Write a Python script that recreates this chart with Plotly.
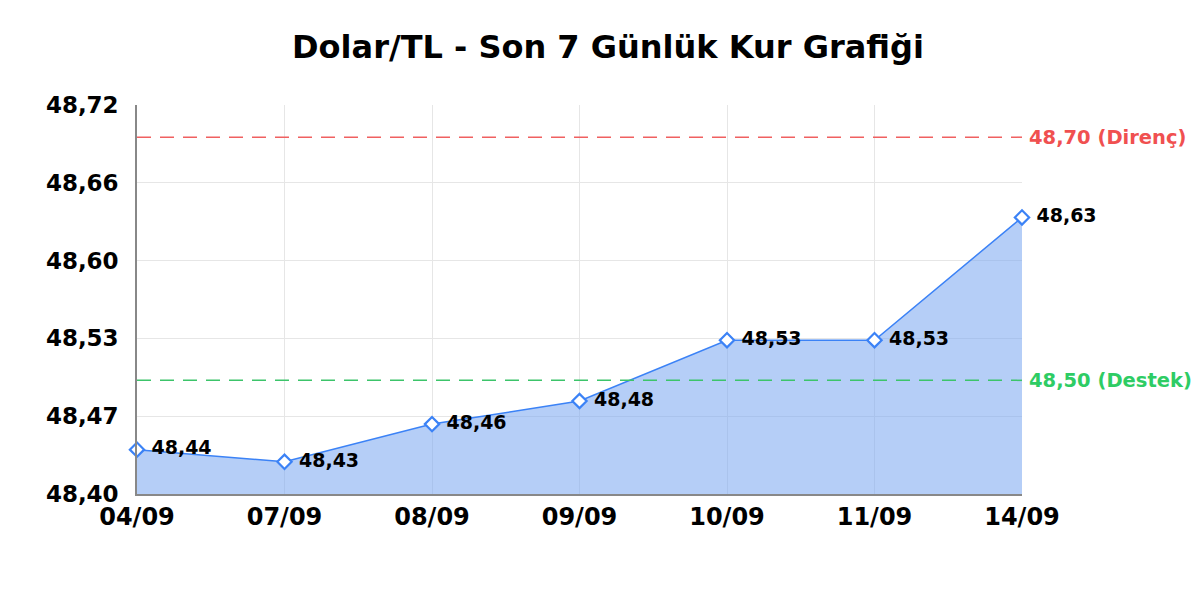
import plotly.graph_objects as go

# veriler
dates = ["04/09", "07/09", "08/09", "09/09", "10/09", "11/09", "14/09"]
rates = [48.443, 48.433, 48.464, 48.483, 48.533, 48.533, 48.634]
rate_labels = ["48,44", "48,43", "48,46", "48,48", "48,53", "48,53", "48,63"]

y_ticks = [48.4065, 48.4705, 48.5345, 48.5985, 48.6625, 48.7265]
y_tick_labels = ["48,40", "48,47", "48,53", "48,60", "48,66", "48,72"]

resistance = 48.70
support = 48.50

FONT = "DejaVu Sans"

fig = go.Figure()

fig.add_trace(go.Scatter(
	x=dates, y=rates,
	mode="lines+markers+text",
	fill="tozeroy",
	fillcolor="rgba(120,165,240,0.55)",
	line=dict(color="#3b82f6", width=1.5),
	marker=dict(symbol="diamond", size=11, color="white",
				line=dict(color="#3b82f6", width=2.2)),
	text=[" " + t for t in rate_labels],
	textposition="middle right",
	textfont=dict(family=FONT, size=19, color="black", weight="bold"),
	cliponaxis=False,
	hoverinfo="skip",
))

# direnç / destek çizgileri
fig.add_hline(y=resistance, line=dict(color="#f06060", width=1.5, dash="14px,9px"))
fig.add_hline(y=support, line=dict(color="#3cc46a", width=1.5, dash="14px,9px"))
fig.add_annotation(xref="paper", x=1.0, y=resistance, xanchor="left",
	text="48,70 (Direnç)", showarrow=False, xshift=6, borderpad=0,
	font=dict(family=FONT, size=19.5, color="#f05050", weight="bold"))
fig.add_annotation(xref="paper", x=1.0, y=support, xanchor="left",
	text="48,50 (Destek)", showarrow=False, xshift=6, borderpad=0,
	font=dict(family=FONT, size=19.5, color="#2ecc64", weight="bold"))

fig.update_layout(
	width=1200, height=600,
	margin=dict(l=129, r=186, t=97, b=114),
	paper_bgcolor="white", plot_bgcolor="white",
	showlegend=False,
	title=dict(text="<b>Dolar/TL - Son 7 Günlük Kur Grafiği</b>",
			   x=0.5, xanchor="center", y=0.935, yanchor="middle",
			   font=dict(family=FONT, size=32, color="black")),
	xaxis=dict(
		type="category", range=[0, 6],
		showgrid=True, gridcolor="#e6e6e6", gridwidth=1,
		showline=True, linecolor="#888888", linewidth=1.5,
		ticks="", tickfont=dict(family=FONT, size=24, color="black", weight="bold"),
		fixedrange=True,
	),
	yaxis=dict(
		range=[y_ticks[0], y_ticks[-1]],
		tickvals=y_ticks, ticktext=y_tick_labels,
		showgrid=True, gridcolor="#e6e6e6", gridwidth=1,
		showline=True, linecolor="#888888", linewidth=1.5,
		zeroline=False, ticks="", ticklabelstandoff=12,
		tickfont=dict(family=FONT, size=23, color="black", weight="bold"),
		fixedrange=True,
	),
)

fig.write_html("out.html")
